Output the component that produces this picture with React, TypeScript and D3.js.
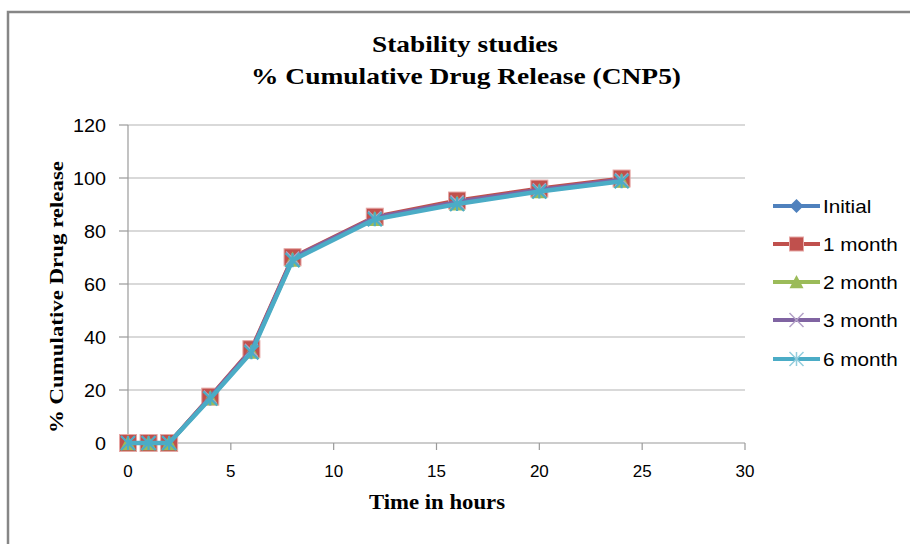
import React from "react";
import * as d3 from "d3";

const times = [0, 1, 2, 4, 6, 8, 12, 16, 20, 24];
const initial = [0, 0, 0, 17.2, 34.8, 69.5, 84.9, 90.8, 95.4, 99.2];
const month1 = [0, 0, 0, 17.5, 35.4, 70.1, 85.4, 91.5, 96.0, 99.8];
const month2 = [0, 0, 0, 17.0, 34.5, 69.2, 84.6, 90.5, 95.1, 99.0];
const month3 = [0, 0, 0, 17.3, 35.0, 69.8, 85.1, 91.0, 95.6, 99.4];
const month6 = [0, 0, 0, 16.8, 34.2, 69.0, 84.4, 90.2, 94.9, 98.8];
const seriesNames = ["Initial", "1 month", "2 month", "3 month", "6 month"];
const xTicks = [0, 5, 10, 15, 20, 25, 30];
const yTicks = [0, 20, 40, 60, 80, 100, 120];

const colors = ["#4F81BD", "#C0504D", "#9BBB59", "#8064A2", "#4BACC6"];
const markerFill = ["#4F81BD", "#C0504D", "#9BBB59", "#B3A2C7", "#93CDDD"];

const W = 910, H = 544;
const x = d3.scaleLinear().domain([0, 30]).range([128, 745]);
const y = d3.scaleLinear().domain([0, 120]).range([443, 125]);

function Marker({ i, cx, cy, legend }: { i: number; cx: number; cy: number; legend?: boolean }) {
  const c = colors[i];
  if (i === 0) {
    const s = 7;
    return <path d={`M${cx},${cy - s}L${cx + s},${cy}L${cx},${cy + s}L${cx - s},${cy}Z`} fill={c} />;
  }
  if (i === 1) {
    const s = legend ? 7 : 8.5;
    return <rect x={cx - s} y={cy - s} width={2 * s} height={2 * s} fill={c} stroke="#E6A7A5" strokeWidth={1} />;
  }
  if (i === 2) {
    const s = legend ? 7 : 8;
    return <path d={`M${cx},${cy - s}L${cx + s},${cy + s * 0.9}L${cx - s},${cy + s * 0.9}Z`} fill={c} />;
  }
  if (i === 3) {
    const s = legend ? 7 : 6.5;
    return (
      <path d={`M${cx - s},${cy - s}L${cx + s},${cy + s}M${cx - s},${cy + s}L${cx + s},${cy - s}`} stroke={markerFill[3]} strokeWidth={1.5} />
    );
  }
  const s = 7;
  return (
    <path
      d={`M${cx - s},${cy - s}L${cx + s},${cy + s}M${cx - s},${cy + s}L${cx + s},${cy - s}M${cx},${cy - s}L${cx},${cy + s}`}
      stroke={legend ? markerFill[4] : c}
      strokeWidth={legend ? 1.5 : 2.2}
    />
  );
}

export default function App() {
  const data = [initial, month1, month2, month3, month6];
  const line = d3
    .line<number>()
    .x((_, j) => x(times[j]))
    .y((d) => y(d));
  const legendY = [206, 244, 282, 320, 359];
  const tx = (px: number, py: number, s = 1.1) => `translate(${px},${py}) scale(${s},1)`;

  return (
    <svg width={W} height={H} style={{ display: "block", position: "absolute", left: 0, top: 0 }}>
      <rect x={0} y={0} width={W} height={H} fill="#fff" />
      <path d={`M8,${H}L8,12L${W},12`} fill="none" stroke="#868686" strokeWidth={2.5} />

      {/* title */}
      <text
        x={465}
        y={52}
        textAnchor="middle"
        fontFamily="Liberation Serif"
        fontWeight="bold"
        fontSize={24}
        textLength={186}
        lengthAdjust="spacingAndGlyphs"
      >
        Stability studies
      </text>
      <text
        x={466}
        y={84}
        textAnchor="middle"
        fontFamily="Liberation Serif"
        fontWeight="bold"
        fontSize={24}
        textLength={430}
        lengthAdjust="spacingAndGlyphs"
      >
        % Cumulative Drug Release (CNP5)
      </text>

      {/* gridlines */}
      {yTicks.map((t) => (
        <g key={"gy" + t}>
          {t > 0 && <line x1={x(0)} x2={x(30)} y1={y(t)} y2={y(t)} stroke="#B3B3B3" strokeWidth={1.2} />}
          <line x1={x(0) - 9} x2={x(0)} y1={y(t)} y2={y(t)} stroke="#9A9A9A" strokeWidth={1.2} />
          <text transform={tx(106, y(t) + 6.5)} textAnchor="end" fontFamily="Liberation Sans" fontSize={18} fill="#000">
            {t}
          </text>
        </g>
      ))}
      <line x1={x(0)} x2={x(0)} y1={y(120)} y2={y(0)} stroke="#9A9A9A" strokeWidth={1.2} />
      <line x1={x(0)} x2={x(30)} y1={y(0)} y2={y(0)} stroke="#9A9A9A" strokeWidth={1.2} />
      {xTicks.map((t) => (
        <g key={"gx" + t}>
          <line x1={x(t)} x2={x(t)} y1={y(0)} y2={y(0) + 7} stroke="#9A9A9A" strokeWidth={1.2} />
          <text transform={tx(x(t), 477, 1.0)} textAnchor="middle" fontFamily="Liberation Sans" fontSize={17} fill="#000">
            {t}
          </text>
        </g>
      ))}

      {/* axis titles */}
      <text
        x={437}
        y={509}
        textAnchor="middle"
        fontFamily="Liberation Serif"
        fontWeight="bold"
        fontSize={20}
        textLength={136}
        lengthAdjust="spacingAndGlyphs"
      >
        Time in hours
      </text>
      <text
        transform={`translate(63,297) rotate(-90)`}
        textAnchor="middle"
        fontFamily="Liberation Serif"
        fontWeight="bold"
        fontSize={19}
        textLength={272}
        lengthAdjust="spacingAndGlyphs"
      >
        % Cumulative Drug release
      </text>

      {/* series */}
      {data.map((vals, i) => (
        <g key={"s" + i}>
          <path d={line(vals) || ""} fill="none" stroke={colors[i]} strokeWidth={i === 4 ? 4.5 : 4} strokeLinejoin="round" />
          {vals.map((v, j) => (
            <Marker key={j} i={i} cx={x(times[j])} cy={y(v)} />
          ))}
        </g>
      ))}

      {/* legend */}
      {seriesNames.map((n, i) => (
        <g key={"l" + i}>
          <line x1={773} x2={820} y1={legendY[i]} y2={legendY[i]} stroke={colors[i]} strokeWidth={4} />
          <Marker i={i} cx={796.5} cy={legendY[i]} legend />
          <text transform={tx(823, legendY[i] + 7, 1.15)} fontFamily="Liberation Sans" fontSize={18} fill="#000">
            {n}
          </text>
        </g>
      ))}
    </svg>
  );
}
